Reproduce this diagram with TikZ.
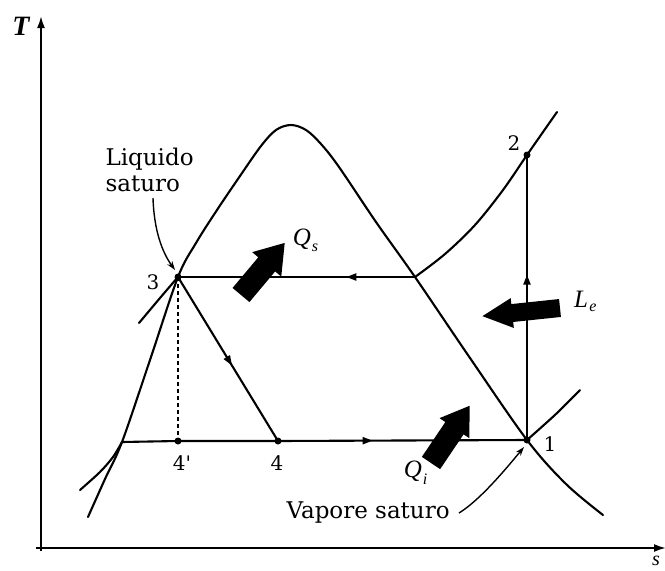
\documentclass[tikz,border=0pt]{standalone}
\usepackage{fontspec}
\setmainfont{DejaVu Serif}
\newfontfamily\timesfont{Liberation Serif}
\usetikzlibrary{arrows.meta,decorations.markings}
\begin{document}
\begin{tikzpicture}[x=1pt,y=-1pt,
  curve/.style={line width=2.1pt,line cap=round,line join=round},
  axis/.style={line width=2pt,-{Latex[length=12pt,width=8pt]}},
  midarrow/.style={postaction={decorate},decoration={markings,mark=at position #1 with {\arrow{Triangle[length=10pt,width=7pt]}}}},
  ptdot/.style={circle,fill,inner sep=0pt,minimum size=7pt},
  lbl/.style={font=\fontsize{20}{20}\selectfont},
  txt/.style={font=\fontsize{23}{23}\selectfont},
  qlab/.style={font=\timesfont\itshape\fontsize{25}{25}\selectfont},
  sublab/.style={font=\timesfont\itshape\fontsize{16}{16}\selectfont},
  pointer/.style={line width=1.4pt,-{Stealth[length=9pt,width=6pt]}}
]
\useasboundingbox (0,0) rectangle (665,571);
\fill[white] (0,0) rectangle (665,571);

% axes
\coordinate (Ytop) at (41,16);
\coordinate (Xend) at (666,548);
\draw[axis] (41,551) -- (Ytop);
\draw[axis] (36,548) -- (Xend);
\node[font=\timesfont\bfseries\itshape\fontsize{28}{28}\selectfont] (Tl) at (21,26) {T};
\node[font=\timesfont\itshape\fontsize{20}{20}\selectfont] (Sl) at (656,561) {s};

% cycle points
\coordinate (p1) at (527,440);
\coordinate (p2) at (527,155);
\coordinate (p3) at (178,277);
\coordinate (p4) at (278,441);
\coordinate (p4p) at (178,441);
\coordinate (pa) at (415,277);
\coordinate (pb) at (122,442);

% saturation dome
\draw[curve] plot[smooth,tension=0.55] coordinates {
 (88,517) (105,479) (pb) (150,360) (p3) (196,243) (217,210) (240,176)
 (261,146) (276,130) (291,125) (306,130) (321,144) (339,167) (376,222)
 (pa) (470,358) (p1) (566,484) (603,515)};

% high pressure isobar
\draw[curve] plot[smooth,tension=0.5] coordinates {(139,323) (160,298) (p3)};
\draw[curve] plot[smooth,tension=0.55] coordinates {(pa) (445,254) (475,225) (503,190) (p2) (557,112)};
% low pressure isobar
\draw[curve] plot[smooth,tension=0.5] coordinates {(80,490) (100,472) (113,457) (pb)};
\draw[curve] plot[smooth,tension=0.5] coordinates {(p1) (556,414) (580,390)};

% cycle
\draw[curve,midarrow=0.58] (p1) -- (p2);
\draw[curve,midarrow=0.29] (pa) -- (p3);
\draw[curve,midarrow=0.54] (p3) -- (p4);
\draw[curve] (pb) -- (p4p) -- (p4);
\draw[curve,midarrow=0.38] (p4) -- (p1);
\draw[line width=1.4pt,dash pattern=on 4pt off 3pt] (p3) -- (p4p);

\node[ptdot] (d1) at (p1) {};
\node[ptdot] (d2) at (p2) {};
\node[ptdot] (d3) at (p3) {};
\node[ptdot] (d4) at (p4) {};
\node[ptdot] (d4p) at (p4p) {};

% point labels
\node[lbl] (l1) at (550,444) {1};
\node[lbl] (l2) at (514,143) {2};
\node[lbl] (l3) at (153,282) {3};
\node[lbl] (l4p) at (182,463) {4\textquotesingle};
\node[lbl] (l4) at (277,463) {4};

% texts
\node[txt,anchor=base west] (liq1) at (102,165) {Liquido};
\node[txt,anchor=base west] (liq2) at (102,191) {saturo};
\node[txt,anchor=base west] (vap) at (283,518) {Vapore saturo};
\coordinate (liqS) at (153,198);
\coordinate (vapS) at (459,513);
\draw[pointer] (liqS) .. controls (154,230) and (162,252) .. (175,270);
\draw[pointer] (vapS) .. controls (480,500) and (505,470) .. (524,447);

% heat / work block arrows
\fill[shift={(241,295)},rotate=50] (0,-11) -- (40,-11) -- (40,-19) -- (68,0) -- (40,19) -- (40,11) -- (0,11) -- cycle;
\fill[shift={(560,308)},rotate=186] (0,-9) -- (48,-9) -- (48,-15) -- (78,0) -- (48,15) -- (48,9) -- (0,9) -- cycle;
\fill[shift={(431,463)},rotate=56] (0,-11) -- (42,-11) -- (42,-18) -- (69,0) -- (42,18) -- (42,11) -- (0,11) -- cycle;

\node[qlab] (Qs) at (302,239) {Q};
\node[sublab] (Qss) at (315,248) {s};
\node[qlab] (Le) at (581,299) {L};
\node[sublab] (Les) at (593,308) {e};
\node[qlab] (Qi) at (413,471) {Q};
\node[sublab] (Qis) at (425,479) {i};
\end{tikzpicture}
\end{document}
